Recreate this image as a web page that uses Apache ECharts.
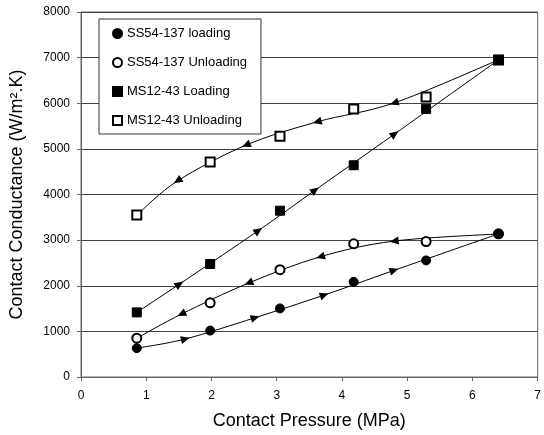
<!DOCTYPE html>
<html>
<head>
<meta charset="utf-8">
<script src="https://cdn.jsdelivr.net/npm/echarts@6/dist/echarts.min.js"></script>
<style>
  html, body { margin: 0; padding: 0; background: #fff; }
  #chart { width: 544px; height: 435px; }
</style>
</head>
<body>
<div id="chart"></div>
<script>
// contact pressure (MPa) of the measured points
var pressures = [0.855, 1.98, 3.05, 4.18, 5.29, 6.40];

// contact conductance (W/m2.K)
var ssLoading = [632, 1017, 1503, 2085, 2555, 3137];
var ssUnloading = [850, 1627, 2353, 2919, 2970, 3137];
var msLoading = [1416, 2477, 3645, 4641, 5876, 6950];
var msUnloading = [3551, 4712, 5279, 5876, 6137, 6950];

// direction arrows sitting on each fitted curve
var ssLoadArrowX = [1.60, 2.67, 3.73, 4.80];
var ssLoadArrowY = [834, 1300, 1796, 2338];
var ssUnloadArrowX = [1.54, 2.57, 3.67, 4.80];
var ssUnloadArrowY = [1379, 2060, 2636, 2979];
var msLoadArrowX = [1.51, 2.72, 3.59, 4.81];
var msLoadArrowY = [2037, 3210, 4096, 5330];
var msUnloadArrowX = [1.48, 2.53, 3.62, 4.80];
var msUnloadArrowY = [4298, 5083, 5593, 6007];

function pairs(xs, ys) {
    return xs.map(function (x, i) { return [x, ys[i]]; });
}

var curves = [
    { name: "SS54-137 Unloading", ys: ssUnloading, symbol: "emptyCircle", ax: ssUnloadArrowX, ay: ssUnloadArrowY, back: true },
    { name: "MS12-43 Unloading", ys: msUnloading, symbol: "emptyRect", ax: msUnloadArrowX, ay: msUnloadArrowY, back: true },
    { name: "SS54-137 loading", ys: ssLoading, symbol: "circle", ax: ssLoadArrowX, ay: ssLoadArrowY, back: false },
    { name: "MS12-43 Loading", ys: msLoading, symbol: "rect", ax: msLoadArrowX, ay: msLoadArrowY, back: false }
];

// the fitted curve runs from the first point, over the arrows, to the last point
function knots(c) {
    var n = pressures.length - 1;
    return [[pressures[0], c.ys[0]]].concat(pairs(c.ax, c.ay), [[pressures[n], c.ys[n]]]);
}

var font = "Liberation Sans, Arial, sans-serif";
var chart = echarts.init(document.getElementById("chart"));

// smooth curve through the knots (Catmull-Rom as bezier pieces)
function smoothCurve(ks, api) {
    var pts = ks.map(function (k) { return api.coord(k); });
    var n = pts.length;
    var kids = [];
    for (var i = 0; i < n - 1; i++) {
        var p0 = pts[Math.max(i - 1, 0)], p1 = pts[i], p2 = pts[i + 1], p3 = pts[Math.min(i + 2, n - 1)];
        kids.push({
            type: "bezierCurve",
            shape: {
                x1: p1[0], y1: p1[1], x2: p2[0], y2: p2[1],
                cpx1: p1[0] + (p2[0] - p0[0]) / 6, cpy1: p1[1] + (p2[1] - p0[1]) / 6,
                cpx2: p2[0] - (p3[0] - p1[0]) / 6, cpy2: p2[1] - (p3[1] - p1[1]) / 6
            },
            style: { stroke: "#000", lineWidth: 1, fill: null }
        });
    }
    return { type: "group", children: kids };
}

var series = [];
curves.forEach(function (c) {
    var ks = knots(c);
    series.push({
        name: c.name + " curve",
        type: "custom",
        data: ks,
        renderItem: function (params, api) {
            if (params.dataIndex !== 0) return null;
            return smoothCurve(ks, api);
        },
        z: 2,
        silent: true
    });
});
curves.forEach(function (c) {
    series.push({
        name: c.name + " arrows",
        type: "scatter",
        data: pairs(c.ax, c.ay),
        symbol: "triangle",
        symbolSize: [8, 9],
        itemStyle: { color: "#000", opacity: 1 },
        z: 3
    });
});
curves.forEach(function (c) {
    series.push({
        name: c.name,
        type: "scatter",
        data: pairs(pressures, c.ys),
        symbol: c.symbol,
        symbolSize: 9,
        itemStyle: { color: "#000", borderColor: "#000", borderWidth: 1, opacity: 1 },
        z: c.back ? 4 : 5
    });
});

chart.setOption({
    backgroundColor: "#fff",
    animation: false,
    grid: { left: 81, right: 3, top: 12, bottom: 55, show: true, borderColor: "#666", borderWidth: 1 },
    legend: {
        orient: "vertical",
        left: 99,
        top: 19,
        padding: [8, 14, 7, 13],
        itemGap: 16,
        itemWidth: 9,
        itemHeight: 9,
        backgroundColor: "#fff",
        borderColor: "#333",
        borderWidth: 1,
        itemStyle: { opacity: 1 },
        textStyle: { fontFamily: font, fontSize: 13, color: "#000" },
        data: [
            { name: "SS54-137 loading", icon: "circle" },
            { name: "SS54-137 Unloading", icon: "emptyCircle" },
            { name: "MS12-43 Loading", icon: "rect" },
            { name: "MS12-43 Unloading", icon: "emptyRect" }
        ]
    },
    xAxis: {
        type: "value",
        min: 0,
        max: 7,
        interval: 1,
        name: "Contact Pressure (MPa)",
        nameLocation: "middle",
        nameGap: 35,
        nameTextStyle: { fontFamily: font, fontSize: 18, color: "#000" },
        axisLine: { lineStyle: { color: "#666" } },
        axisTick: { length: 4, lineStyle: { color: "#666" } },
        axisLabel: { fontFamily: font, fontSize: 12, color: "#000", margin: 13 },
        splitLine: { show: false }
    },
    yAxis: {
        type: "value",
        min: 0,
        max: 8000,
        interval: 1000,
        name: "Contact Conductance (W/m\u00b2.K)",
        nameLocation: "middle",
        nameGap: 55,
        nameTextStyle: { fontFamily: font, fontSize: 18, color: "#000" },
        axisLine: { show: true, lineStyle: { color: "#666" } },
        axisTick: { show: true, length: 4, lineStyle: { color: "#666" } },
        axisLabel: { fontFamily: font, fontSize: 12, color: "#000", margin: 11, formatter: function (v) { return String(v); } },
        splitLine: { show: true, lineStyle: { color: "#444", width: 1 } }
    },
    series: series
});

// turn each arrow along the curve (neighbouring knots), in pixel space
var rotated = [];
curves.forEach(function (c) {
    var ks = knots(c);
    var data = c.ax.map(function (x, i) {
        var p0 = chart.convertToPixel({ gridIndex: 0 }, ks[i]);
        var p1 = chart.convertToPixel({ gridIndex: 0 }, ks[i + 2]);
        var dx = p1[0] - p0[0], dy = p1[1] - p0[1];
        if (c.back) { dx = -dx; dy = -dy; }
        var ang = Math.atan2(-dy, dx) * 180 / Math.PI;
        return { value: [x, c.ay[i]], symbolRotate: ang - 90 };
    });
    rotated.push({ name: c.name + " arrows", data: data });
});
chart.setOption({ series: rotated });
</script>
</body>
</html>
